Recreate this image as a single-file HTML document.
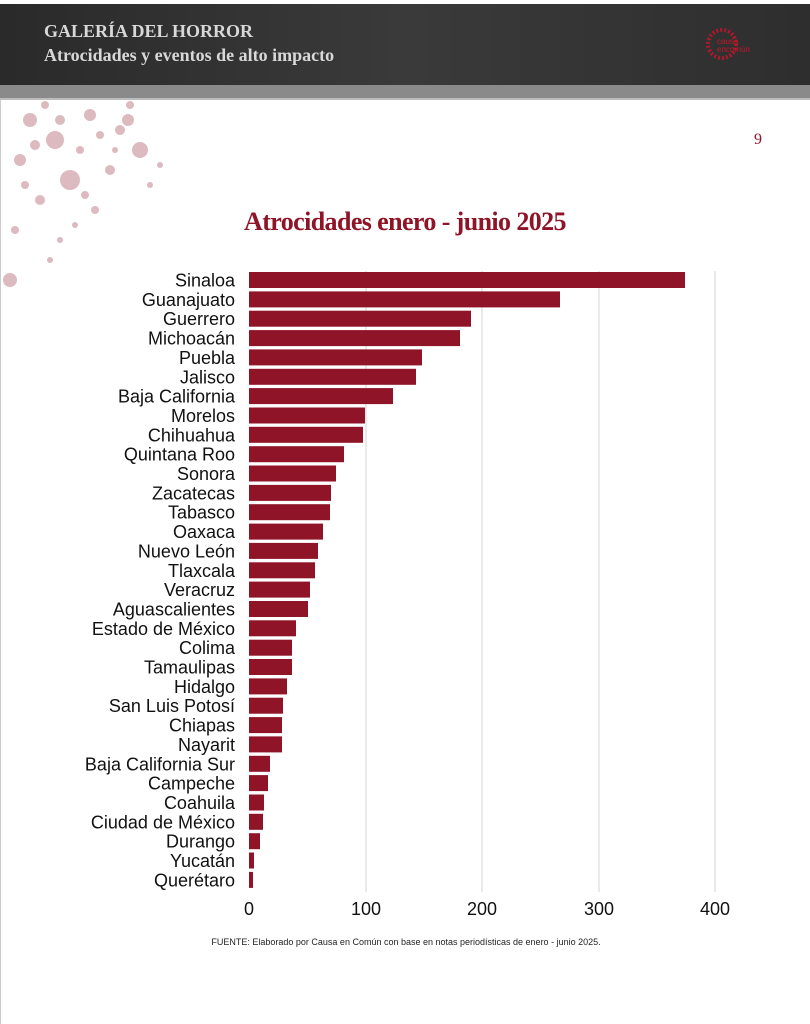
<!DOCTYPE html>
<html><head><meta charset="utf-8"><style>
html,body{margin:0;padding:0;background:#fff}
svg{display:block}
</style></head><body>
<svg width="810" height="1024" xmlns="http://www.w3.org/2000/svg">
<defs><linearGradient id="hg" x1="0" x2="1" y1="0" y2="0"><stop offset="0" stop-color="#2a2a2a"/><stop offset="0.5" stop-color="#3a3a3a"/><stop offset="1" stop-color="#2e2e2e"/></linearGradient></defs>
<rect x="0" y="4" width="810" height="81" fill="url(#hg)"/>
<rect x="0" y="85" width="810" height="13" fill="#8a8a8a"/>
<rect x="0" y="98" width="810" height="2" fill="#bdbdbd"/>
<line x1="0.5" y1="100" x2="0.5" y2="1024" stroke="#ccc"/>
<text x="44" y="37" font-family="Liberation Serif, serif" font-weight="bold" font-size="18" fill="#d8d8d8">GALERÍA DEL HORROR</text>
<text x="44" y="61" font-family="Liberation Serif, serif" font-weight="bold" font-size="18" fill="#d8d8d8">Atrocidades y eventos de alto impacto</text>
<circle cx="722" cy="44" r="14" fill="none" stroke="#b0182c" stroke-width="4" stroke-dasharray="2 2"/>
<text x="717" y="44" font-family="Liberation Sans, sans-serif" font-size="8" fill="#c0182c">causa</text>
<text x="717" y="52" font-family="Liberation Sans, sans-serif" font-size="8" fill="#c0182c">encomún</text>
<g fill="#d9b3ba" opacity="0.9">
<circle cx="30" cy="120" r="7"/><circle cx="55" cy="140" r="9"/><circle cx="90" cy="115" r="6"/><circle cx="120" cy="130" r="5"/><circle cx="140" cy="150" r="8"/><circle cx="20" cy="160" r="6"/><circle cx="70" cy="180" r="10"/><circle cx="110" cy="170" r="5"/><circle cx="40" cy="200" r="5"/><circle cx="95" cy="210" r="4"/><circle cx="150" cy="185" r="3"/><circle cx="15" cy="230" r="4"/><circle cx="60" cy="240" r="3"/><circle cx="10" cy="280" r="7"/><circle cx="130" cy="105" r="4"/><circle cx="80" cy="150" r="4"/><circle cx="45" cy="105" r="4"/>
<circle cx="128" cy="120" r="6"/><circle cx="60" cy="120" r="5"/><circle cx="100" cy="135" r="4"/><circle cx="35" cy="145" r="5"/><circle cx="85" cy="195" r="4"/><circle cx="25" cy="185" r="4"/><circle cx="115" cy="150" r="3"/><circle cx="160" cy="165" r="3"/><circle cx="50" cy="260" r="3"/><circle cx="75" cy="225" r="3"/>
</g>
<text x="758" y="144" font-family="Liberation Serif, serif" font-size="16" fill="#8f1427" text-anchor="middle">9</text>
<text x="405" y="230" font-family="Liberation Serif, serif" font-weight="bold" font-size="26" fill="#8f1427" text-anchor="middle" letter-spacing="-0.6">Atrocidades enero - junio 2025</text>
<g stroke="#d4d4d4" stroke-width="1">
<line x1="366" y1="271" x2="366" y2="892"/><line x1="482" y1="271" x2="482" y2="892"/><line x1="599" y1="271" x2="599" y2="892"/><line x1="715" y1="271" x2="715" y2="892"/>
</g>
<g font-family="Liberation Sans, sans-serif" font-size="18" fill="#111" text-anchor="middle">
<text x="249" y="915">0</text><text x="366" y="915">100</text><text x="482" y="915">200</text><text x="599" y="915">300</text><text x="715" y="915">400</text>
</g>
<text x="406" y="945" font-family="Liberation Sans, sans-serif" font-size="9" fill="#222" text-anchor="middle">FUENTE: Elaborado por Causa en Común con base en notas periodísticas de enero - junio 2025.</text>
<g fill="#8f1427">
<rect x="249" y="272" width="436" height="16"/>
<rect x="249" y="291.4" width="311" height="16"/>
<rect x="249" y="310.7" width="222" height="16"/>
<rect x="249" y="330.1" width="211" height="16"/>
<rect x="249" y="349.4" width="173" height="16"/>
<rect x="249" y="368.8" width="167" height="16"/>
<rect x="249" y="388.1" width="144" height="16"/>
<rect x="249" y="407.5" width="116" height="16"/>
<rect x="249" y="426.8" width="114" height="16"/>
<rect x="249" y="446.2" width="95" height="16"/>
<rect x="249" y="465.5" width="87" height="16"/>
<rect x="249" y="484.9" width="82" height="16"/>
<rect x="249" y="504.2" width="81" height="16"/>
<rect x="249" y="523.6" width="74" height="16"/>
<rect x="249" y="542.9" width="69" height="16"/>
<rect x="249" y="562.3" width="66" height="16"/>
<rect x="249" y="581.6" width="61" height="16"/>
<rect x="249" y="601" width="59" height="16"/>
<rect x="249" y="620.3" width="47" height="16"/>
<rect x="249" y="639.7" width="43" height="16"/>
<rect x="249" y="659" width="43" height="16"/>
<rect x="249" y="678.4" width="38" height="16"/>
<rect x="249" y="697.7" width="34" height="16"/>
<rect x="249" y="717.1" width="33" height="16"/>
<rect x="249" y="736.4" width="33" height="16"/>
<rect x="249" y="755.8" width="21" height="16"/>
<rect x="249" y="775.1" width="19" height="16"/>
<rect x="249" y="794.5" width="15" height="16"/>
<rect x="249" y="813.8" width="14" height="16"/>
<rect x="249" y="833.2" width="11" height="16"/>
<rect x="249" y="852.5" width="5" height="16"/>
<rect x="249" y="871.9" width="4" height="16"/>
</g>
<g font-family="Liberation Sans, sans-serif" font-size="18" fill="#111" text-anchor="end">
<text x="235" y="286.5">Sinaloa</text>
<text x="235" y="305.9">Guanajuato</text>
<text x="235" y="325.2">Guerrero</text>
<text x="235" y="344.6">Michoacán</text>
<text x="235" y="363.9">Puebla</text>
<text x="235" y="383.3">Jalisco</text>
<text x="235" y="402.6">Baja California</text>
<text x="235" y="422">Morelos</text>
<text x="235" y="441.3">Chihuahua</text>
<text x="235" y="460.7">Quintana Roo</text>
<text x="235" y="480">Sonora</text>
<text x="235" y="499.4">Zacatecas</text>
<text x="235" y="518.7">Tabasco</text>
<text x="235" y="538.1">Oaxaca</text>
<text x="235" y="557.4">Nuevo León</text>
<text x="235" y="576.8">Tlaxcala</text>
<text x="235" y="596.1">Veracruz</text>
<text x="235" y="615.5">Aguascalientes</text>
<text x="235" y="634.8">Estado de México</text>
<text x="235" y="654.2">Colima</text>
<text x="235" y="673.5">Tamaulipas</text>
<text x="235" y="692.9">Hidalgo</text>
<text x="235" y="712.2">San Luis Potosí</text>
<text x="235" y="731.6">Chiapas</text>
<text x="235" y="750.9">Nayarit</text>
<text x="235" y="770.3">Baja California Sur</text>
<text x="235" y="789.6">Campeche</text>
<text x="235" y="809">Coahuila</text>
<text x="235" y="828.3">Ciudad de México</text>
<text x="235" y="847.7">Durango</text>
<text x="235" y="867">Yucatán</text>
<text x="235" y="886.4">Querétaro</text>
</g>
</svg>
</body></html>
